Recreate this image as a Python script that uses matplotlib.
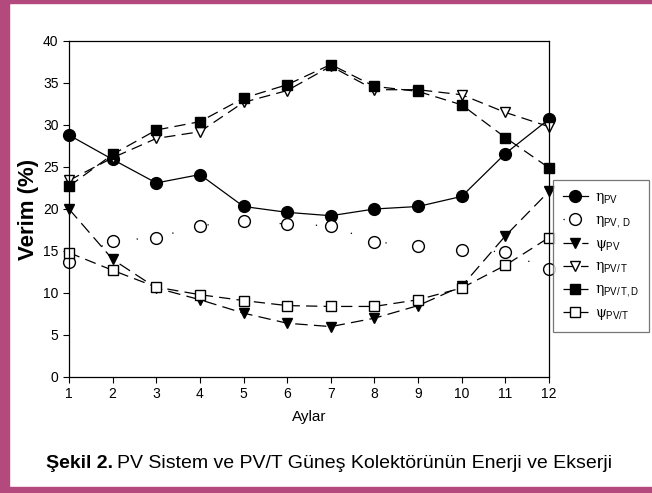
import numpy as np
import matplotlib.pyplot as plt
import matplotlib.patches as mpatches

################################################################################
# Data
################################################################################
months = [1, 2, 3, 4, 5, 6, 7, 8, 9, 10, 11, 12]
eta_pv = [28.8, 25.9, 23.1, 24.1, 20.3, 19.6, 19.2, 20.0, 20.3, 21.5, 26.6, 30.7]
eta_pv_d = [13.7, 16.2, 16.6, 18.0, 18.6, 18.2, 18.0, 16.1, 15.6, 15.1, 14.9, 12.8]
psi_pv = [20.0, 14.0, 10.6, 9.2, 7.6, 6.4, 6.0, 7.0, 8.5, 10.8, 16.8, 22.1]
eta_pvt = [23.4, 26.1, 28.4, 29.2, 32.7, 34.1, 37.0, 34.2, 34.2, 33.6, 31.5, 29.8]
eta_pvt_d = [22.7, 26.5, 29.4, 30.4, 33.2, 34.8, 37.2, 34.6, 34.0, 32.4, 28.5, 24.9]
psi_pvt = [14.8, 12.7, 10.7, 9.8, 9.1, 8.5, 8.4, 8.4, 9.2, 10.6, 13.3, 16.6]

labels = [r'$\eta_{\mathrm{PV}}$', r'$\eta_{\mathrm{PV,\,D}}$', r'$\psi_{\mathrm{PV}}$',
          r'$\eta_{\mathrm{PV/\,T}}$', r'$\eta_{\mathrm{PV/\,T,D}}$', r'$\psi_{\mathrm{PV/T}}$']

plt.rcParams['font.family'] = ['Liberation Sans', 'DejaVu Sans']
plt.rcParams['mathtext.fontset'] = 'custom'
plt.rcParams['mathtext.rm'] = 'Liberation Sans'
plt.rcParams['mathtext.it'] = 'DejaVu Serif'

fig = plt.figure(figsize=(6.52, 4.93), dpi=100)
ax = fig.add_axes([69/652, 1 - 377/493, (549 - 69)/652, (377 - 41)/493])

k = dict(color='black', lw=0.9, mec='black', clip_on=False)
ax.plot(months, eta_pv, marker='o', ms=8.5, mfc='black', ls='-', label=labels[0], **k)
ax.plot(months, eta_pv_d, marker='o', ms=8.5, mfc='white', ls=(0, (1, 28)), label=labels[1], **k)
ax.plot(months, psi_pv, marker='v', ms=7.5, mfc='black', ls=(0, (10, 5)), label=labels[2], **k)
ax.plot(months, eta_pvt, marker='v', ms=7.5, mfc='white', ls=(0, (9, 5)), label=labels[3], **k)
ax.plot(months, eta_pvt_d, marker='s', ms=6.5, mfc='black', ls=(0, (9, 5)), label=labels[4], **k)
ax.plot(months, psi_pvt, marker='s', ms=6.5, mfc='white', ls=(0, (9, 5)), label=labels[5], **k)

ax.set_xlim(1, 12)
ax.set_ylim(0, 40)
ax.set_xticks(months)
ax.set_yticks(np.arange(0, 41, 5))
ax.tick_params(labelsize=10, direction='out', length=4, width=0.8)
for s in ax.spines.values():
    s.set_linewidth(0.9)
ax.set_xlabel('Aylar', fontsize=11, labelpad=6)
ax.set_ylabel('Verim (%)', fontsize=16, fontweight='bold', labelpad=3)

leg = fig.legend(loc='upper left', bbox_to_anchor=(553/652, 1 - 180/493), fontsize=10,
                 frameon=True, fancybox=False, edgecolor='#555555', handlelength=1.8,
                 labelspacing=0.5, borderpad=0.7, handletextpad=0.5, borderaxespad=0)
leg.get_frame().set_linewidth(0.9)

# caption
cy = 1 - 463/493
fig.text(113/652, cy, 'Şekil 2.', fontsize=14, fontweight='bold', va='center', ha='right')
fig.text(117/652, cy, 'PV Sistem ve PV/T Güneş Kolektörünün Enerji ve Ekserji',
         fontsize=14, va='center', ha='left')

# pink frame
col = '#b3497c'
fig.patches.append(mpatches.Rectangle((0, 0), 9/652, 1, transform=fig.transFigure, color=col, zorder=0))
fig.patches.append(mpatches.Rectangle((0, 1 - 3/493), 1, 3/493, transform=fig.transFigure, color=col, zorder=0))
fig.patches.append(mpatches.Rectangle((0, 0), 1, 6/493, transform=fig.transFigure, color=col, zorder=0))

fig.savefig('out.png', dpi=100)
